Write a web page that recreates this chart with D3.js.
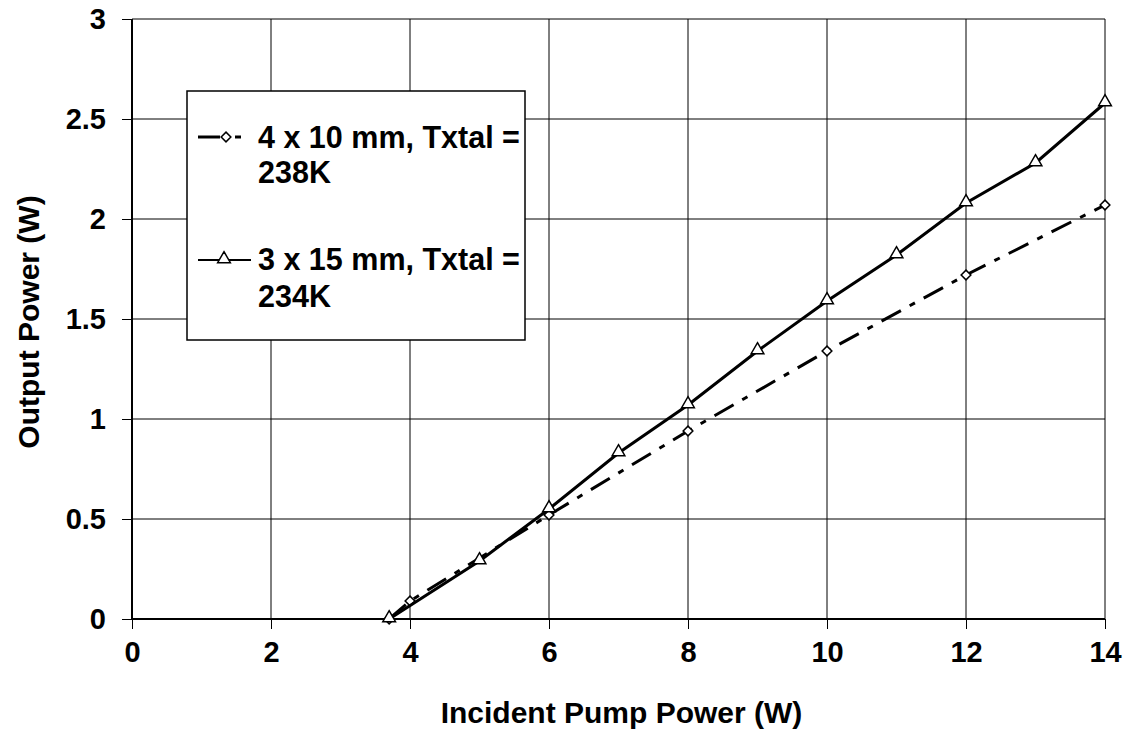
<!DOCTYPE html>
<html><head><meta charset="utf-8">
<script src="https://cdn.jsdelivr.net/npm/d3@7"></script>
<style>
html,body{margin:0;padding:0;background:#fff;}
text{font-family:"Liberation Sans",Arial,sans-serif;font-weight:bold;fill:#000;}
</style></head>
<body><svg id="c" width="1127" height="741"></svg>
<script>
// Data
const xTicks = [0, 2, 4, 6, 8, 10, 12, 14];
const yTicks = [0, 0.5, 1, 1.5, 2, 2.5, 3];
const s1X = [3.7, 4, 6, 8, 10, 12, 14];
const s1Y = [0, 0.09, 0.52, 0.94, 1.34, 1.72, 2.07];
const s2X = [3.7, 5, 6, 7, 8, 9, 10, 11, 12, 13, 14];
const s2Y = [0, 0.29, 0.55, 0.83, 1.07, 1.34, 1.59, 1.82, 2.08, 2.28, 2.58];
const s1Name = ["4 x 10 mm, Txtal =", "238K"];
const s2Name = ["3 x 15 mm, Txtal =", "234K"];
const xTitle = "Incident Pump Power (W)";
const yTitle = "Output Power (W)";

const svg = d3.select("#c");
const L = 132, R = 1105, T = 19, B = 619;
const x = d3.scaleLinear().domain([0, 14]).range([L, R]);
const y = d3.scaleLinear().domain([0, 3]).range([B, T]);

// gridlines
svg.append("g").selectAll("line").data(yTicks.filter(d => d > 0)).join("line")
  .attr("x1", L).attr("x2", R).attr("y1", d => y(d)).attr("y2", d => y(d))
  .attr("stroke", "#000").attr("stroke-width", 1);
svg.append("g").selectAll("line").data(xTicks.filter(d => d > 0)).join("line")
  .attr("x1", d => x(d)).attr("x2", d => x(d)).attr("y1", T).attr("y2", B)
  .attr("stroke", "#000").attr("stroke-width", 1);

// axes
const xAxis = svg.append("g").attr("transform", `translate(0,${B})`)
  .call(d3.axisBottom(x).tickValues(xTicks).tickSize(10).tickPadding(12).tickFormat(d3.format("d")));
const yAxis = svg.append("g").attr("transform", `translate(${L},0)`)
  .call(d3.axisLeft(y).tickValues(yTicks).tickSize(10).tickPadding(16).tickFormat(d => String(d)));
[xAxis, yAxis].forEach(g => {
  g.select(".domain").attr("stroke", "#000").attr("stroke-width", 2);
  g.selectAll(".tick line").attr("stroke", "#000").attr("stroke-width", 1);
  g.selectAll("text").attr("font-size", 29).attr("font-family", "Liberation Sans, Arial, sans-serif").attr("font-weight", "bold").attr("fill", "#000");
});
yAxis.select(".domain").attr("d", `M0,${B}V${T}`);
xAxis.select(".domain").attr("d", `M${L},0H${R}`);

// titles
svg.append("text").attr("x", (L + R) / 2 + 3).attr("y", 723).attr("text-anchor", "middle")
  .attr("font-size", 30).text(xTitle);
svg.append("text").attr("transform", `translate(39,${(T + B) / 2 + 3}) rotate(-90)`)
  .attr("text-anchor", "middle").attr("font-size", 30).text(yTitle);

// series
const d1 = s1X.map((v, i) => [v, s1Y[i]]);
const d2 = s2X.map((v, i) => [v, s2Y[i]]);
const line = d3.line().x(d => x(d[0])).y(d => y(d[1]));
svg.append("path").datum(d1).attr("d", line).attr("fill", "none").attr("stroke", "#000")
  .attr("stroke-width", 3).attr("stroke-dasharray", "22,10,6,10");
const diamond = d3.symbol().type(d3.symbolDiamond2).size(60);
const tri = d3.symbol().type(d3.symbolTriangle).size(70);
svg.append("g").selectAll("path").data(d1).join("path")
  .attr("transform", d => `translate(${x(d[0])},${y(d[1])})`).attr("d", diamond)
  .attr("fill", "#fff").attr("stroke", "#000").attr("stroke-width", 1.5);
svg.append("path").datum(d2).attr("d", line).attr("fill", "none").attr("stroke", "#000")
  .attr("stroke-width", 3);
svg.append("g").selectAll("path").data(d2).join("path")
  .attr("transform", d => `translate(${x(d[0])},${y(d[1]) - 1})`).attr("d", tri)
  .attr("fill", "#fff").attr("stroke", "#000").attr("stroke-width", 1.5);

// legend
const lg = svg.append("g");
lg.append("rect").attr("x", 187).attr("y", 91).attr("width", 338).attr("height", 249)
  .attr("fill", "#fff").attr("stroke", "#000").attr("stroke-width", 1.5);
lg.append("line").attr("x1", 198).attr("x2", 220).attr("y1", 137).attr("y2", 137)
  .attr("stroke", "#000").attr("stroke-width", 3);
lg.append("line").attr("x1", 235).attr("x2", 241).attr("y1", 137).attr("y2", 137)
  .attr("stroke", "#000").attr("stroke-width", 3);
lg.append("path").attr("transform", "translate(226,137)").attr("d", diamond)
  .attr("fill", "#fff").attr("stroke", "#000").attr("stroke-width", 1.5);
lg.append("line").attr("x1", 198).attr("x2", 251).attr("y1", 260).attr("y2", 260)
  .attr("stroke", "#000").attr("stroke-width", 2);
lg.append("path").attr("transform", "translate(224,259)").attr("d", tri)
  .attr("fill", "#fff").attr("stroke", "#000").attr("stroke-width", 1.5);
const lt = [[s1Name[0], 148], [s1Name[1], 183], [s2Name[0], 270], [s2Name[1], 307]];
lg.selectAll("text").data(lt).join("text").attr("x", 258).attr("y", d => d[1])
  .attr("font-size", 30.5).text(d => d[0]);
</script></body></html>
